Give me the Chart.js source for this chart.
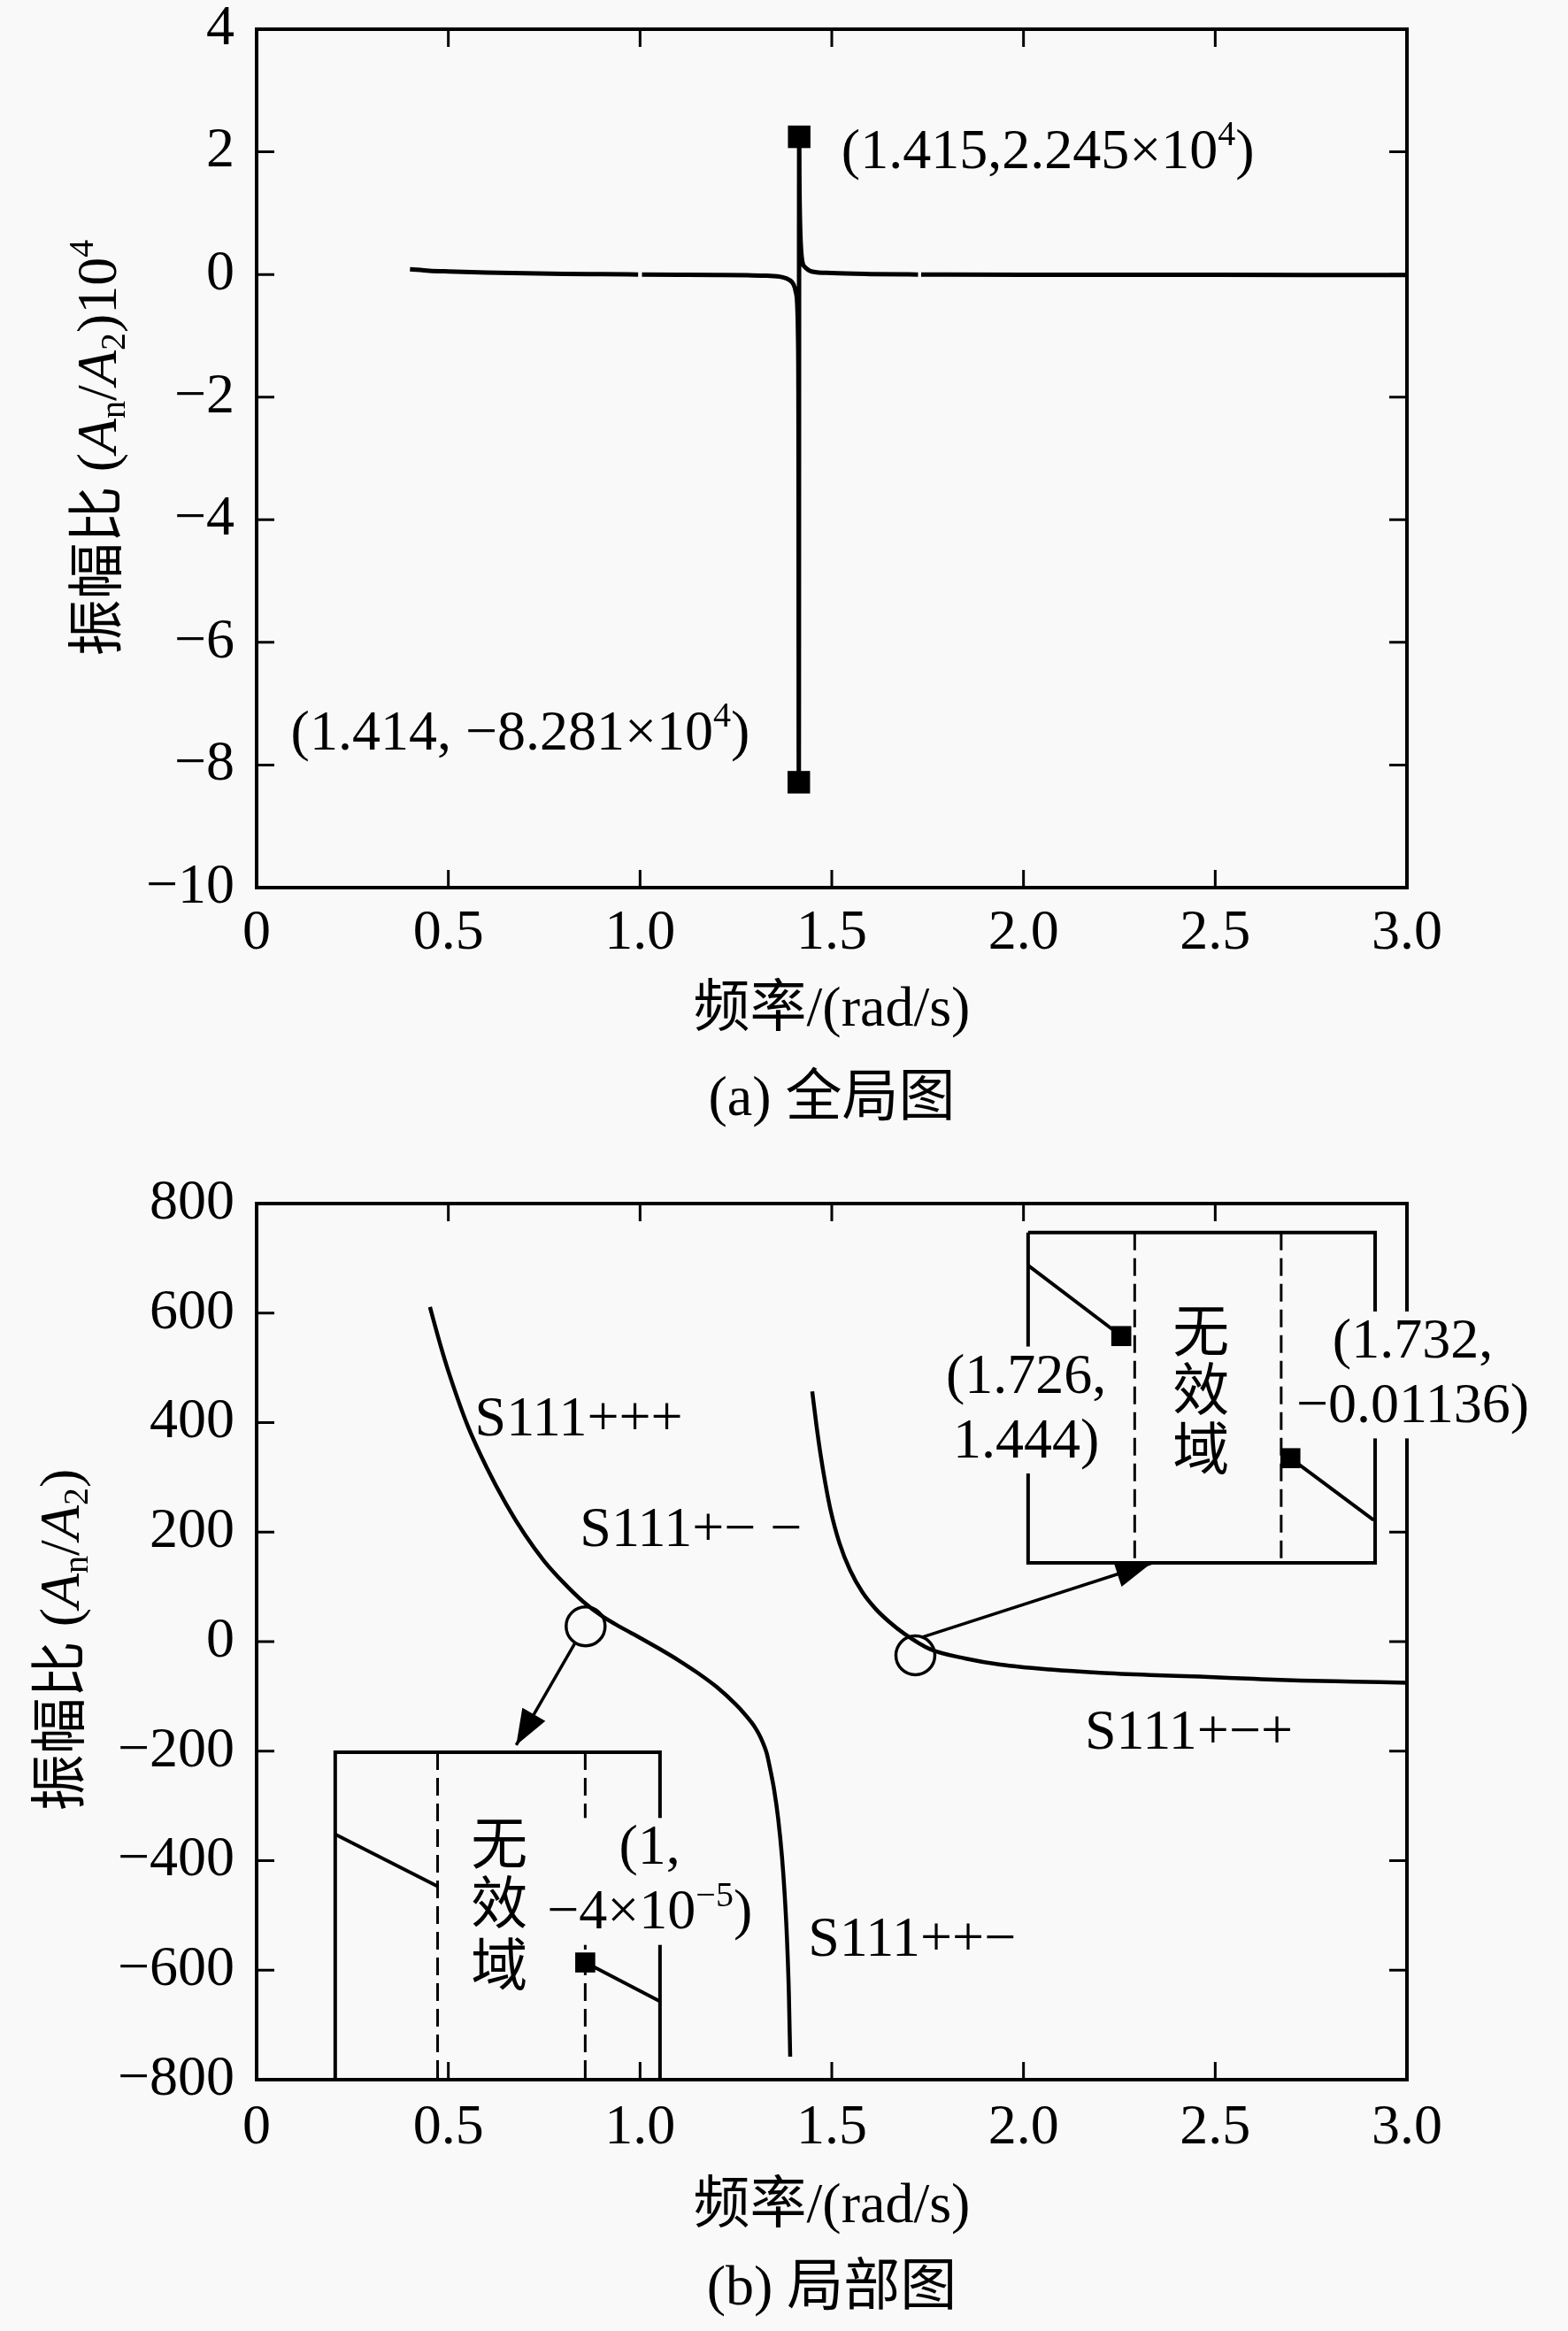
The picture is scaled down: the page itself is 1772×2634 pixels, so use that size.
<!DOCTYPE html>
<html lang="zh">
<head>
  <meta charset="UTF-8">
  <title>振幅比</title>
  <style>
    html, body { margin: 0; padding: 0; background: #f9f9f9; }
    #wrap { position: relative; width: 1772px; height: 2634px; }
    canvas { position: absolute; left: 0; }
    #topChart { top: 0; }
    #bottomChart { top: 1300px; }
  </style>
</head>
<body>
<div id="wrap">
  <canvas id="topChart" width="1772" height="1300"></canvas>
  <canvas id="bottomChart" width="1772" height="1334"></canvas>
</div>

<script src="https://cdn.jsdelivr.net/npm/chart.js"></script>
<script>
// ---- (a) 全局图 : amplitude ratio in units of 10^4 ----
const freqA = [0.40, 0.45, 0.50, 0.60, 0.70, 0.80, 0.90, 0.995, 1.00, 1.005,
               1.10, 1.20, 1.28, 1.33, 1.37, 1.39, 1.40, 1.406, 1.410, 1.412, 1.4133, 1.414,
               1.415, 1.4155, 1.417, 1.420, 1.424, 1.430, 1.440, 1.450,
               1.50, 1.60, 1.70, 1.725, 1.729, 1.733, 1.80, 2.00, 2.50, 3.00];
const ampA = [0.085, 0.061, 0.049, 0.032, 0.019, 0.0095, 0.004, -0.0008, null, -0.0012,
              -0.005, -0.009, -0.014, -0.021, -0.043, -0.09, -0.16, -0.28, -0.5, -1.0, -2.5, -8.281,
              2.245, 1.6, 0.9, 0.4, 0.19, 0.12, 0.07, 0.046,
              0.023, 0.007, 0.0008, 0.0001, null, -0.0003, -0.002, -0.0045, -0.0065, -0.0075];
const peakFreqA = [1.414, 1.415];
const peakAmpA = [-8.281, 2.245];

// ---- (b) 局部图 ----
const freqB1 = [0.452, 0.48, 0.50, 0.55, 0.60, 0.65, 0.70, 0.75, 0.80, 0.85,
                0.90, 0.95, 1.00, 1.05, 1.10, 1.15, 1.20, 1.25, 1.27, 1.29,
                1.30, 1.31, 1.32, 1.33, 1.34, 1.35, 1.36, 1.37, 1.377, 1.383,
                1.388, 1.3915];
const ampB1 = [611, 540, 494, 395, 318, 252, 195, 147, 108, 74,
               47, 26, 7, -13, -34, -57, -83, -115, -130, -147,
               -157, -169, -184, -203, -235, -272, -322, -392, -460, -540,
               -640, -758];
const freqB2 = [1.449, 1.46, 1.47, 1.483, 1.496, 1.52, 1.548, 1.58, 1.614, 1.65, 1.69,
                1.757, 1.85, 1.94, 2.07, 2.2, 2.33, 2.46, 2.6, 2.72, 2.86, 3.0];
const ampB2 = [457, 395, 345, 290, 243, 180, 130, 90, 60, 36, 14,
               -14, -31, -42, -51, -57, -61, -64, -68, -71, -73, -75];

// circled regions and zoomed insets (drawn in the axis units of panel b)
const circleFreq = [0.858, 1.718];
const circleAmp = [28, -25];

const inset1BoxX = [0.205, 0.205, 1.052, 1.052];
const inset1BoxY = [-800, -202, -202, -800];
const inset1DashX = [0.472, 0.857];
const inset1SegX = [[0.205, 0.472], [0.857, 1.052]];
const inset1SegY = [[-352, -447], [-586, -657]];

const inset2BoxX = [2.012, 2.917, 2.917, 2.012, 2.012];
const inset2BoxY = [747, 747, 144, 144, 747];
const inset2DashX = [2.29, 2.672];
const inset2SegX = [[2.012, 2.255], [2.696, 2.913]];
const inset2SegY = [[687, 558], [335, 222]];

const markFreqB = [0.857, 2.255, 2.696];
const markAmpB = [-586, 558, 335];

const arrowFromX = [0.83, 1.735];
const arrowFromY = [-3, 8];
const arrowToX = [0.677, 2.333];
const arrowToY = [-189, 143];

const BG = '#f9f9f9';
const SERIF = '"Liberation Serif", "Times New Roman", "Noto Sans CJK SC", serif';
const FS = 64;

function pts(xs, ys) {
  return xs.map((x, i) => ({ x: x, y: ys[i] }));
}

// tiny markup: {^sup} {_sub} {*italic}
function parseRich(str) {
  const parts = [];
  const re = /\{([\^_*])([^}]*)\}/g;
  let last = 0, m;
  while ((m = re.exec(str)) !== null) {
    if (m.index > last) parts.push({ t: str.slice(last, m.index) });
    parts.push({ t: m[2], k: m[1] });
    last = re.lastIndex;
  }
  if (last < str.length) parts.push({ t: str.slice(last) });
  return parts;
}

function partFont(p, size) {
  const small = p.k === '^' || p.k === '_';
  return (p.k === '*' ? 'italic ' : '') + Math.round(small ? size * 0.62 : size) + 'px ' + SERIF;
}

function richWidth(ctx, parts, size) {
  let w = 0;
  parts.forEach(p => { ctx.font = partFont(p, size); p.w = ctx.measureText(p.t).width; w += p.w; });
  return w;
}

function drawRich(ctx, str, x, y, size, align) {
  const parts = parseRich(str);
  const w = richWidth(ctx, parts, size);
  let cx = align === 'center' ? x - w / 2 : (align === 'right' ? x - w : x);
  ctx.textAlign = 'left';
  ctx.textBaseline = 'middle';
  ctx.fillStyle = '#000';
  parts.forEach(p => {
    ctx.font = partFont(p, size);
    const dy = p.k === '^' ? -size * 0.3 : (p.k === '_' ? size * 0.25 : 0);
    ctx.fillText(p.t, cx, y + dy);
    cx += p.w;
  });
}

function makeDecor(cfg) {
  return {
    id: 'decor',
    beforeDatasetsDraw(chart) {
      const { ctx, chartArea: a, scales: { x, y } } = chart;
      ctx.save();
      ctx.strokeStyle = '#000';
      ctx.lineWidth = 3;
      ctx.beginPath();
      x.ticks.forEach(t => {
        const p = x.getPixelForValue(t.value);
        ctx.moveTo(p, a.bottom); ctx.lineTo(p, a.bottom - 20);
        ctx.moveTo(p, a.top); ctx.lineTo(p, a.top + 20);
      });
      y.ticks.forEach(t => {
        const p = y.getPixelForValue(t.value);
        ctx.moveTo(a.left, p); ctx.lineTo(a.left + 20, p);
        ctx.moveTo(a.right, p); ctx.lineTo(a.right - 20, p);
      });
      ctx.stroke();
      ctx.lineWidth = 4;
      ctx.strokeRect(a.left, a.top, a.right - a.left, a.bottom - a.top);
      ctx.restore();
    },
    afterDatasetsDraw(chart) {
      const { ctx, chartArea: a, scales: { x, y } } = chart;
      ctx.save();

      // arrow heads
      (cfg.arrows || []).forEach(ar => {
        const fx = x.getPixelForValue(ar[0]), fy = y.getPixelForValue(ar[1]);
        const tx = x.getPixelForValue(ar[2]), ty = y.getPixelForValue(ar[3]);
        const len = Math.hypot(tx - fx, ty - fy);
        const ux = (tx - fx) / len, uy = (ty - fy) / len;
        const bx = tx - ux * 40, by = ty - uy * 40;
        ctx.fillStyle = '#000';
        ctx.beginPath();
        ctx.moveTo(tx, ty);
        ctx.lineTo(bx - uy * 15, by + ux * 15);
        ctx.lineTo(bx + uy * 15, by - ux * 15);
        ctx.closePath();
        ctx.fill();
      });

      // notes
      (cfg.notes || []).forEach(n => {
        const px = x.getPixelForValue(n.x);
        const pys = n.lines.map(l => y.getPixelForValue(l[1]));
        if (n.bg) {
          let left = Infinity, right = -Infinity;
          n.lines.forEach(l => {
            const w = richWidth(ctx, parseRich(l[0]), FS);
            const lx = n.align === 'center' ? px - w / 2 : px;
            left = Math.min(left, lx);
            right = Math.max(right, lx + w);
          });
          const top = Math.min(...pys) - FS * 0.55;
          const bot = Math.max(...pys) + FS * 0.55;
          ctx.fillStyle = BG;
          ctx.fillRect(left - 5, top, right - left + 10, bot - top);
        }
        n.lines.forEach((l, i) => drawRich(ctx, l[0], px, pys[i], FS, n.align));
      });

      // titles
      const cxm = (a.left + a.right) / 2;
      drawRich(ctx, '频率/(rad/s)', cxm, a.bottom + cfg.xTitleDy, FS, 'center');
      drawRich(ctx, cfg.caption, cxm, a.bottom + cfg.captionDy, FS, 'center');
      ctx.translate(cfg.yTitleX, cfg.yTitleY);
      ctx.rotate(-Math.PI / 2);
      drawRich(ctx, cfg.yTitle, 0, 0, FS, 'center');
      ctx.restore();
    }
  };
}

const tickFont = { family: SERIF, size: FS, lineHeight: 1 };
const fmtFreq = v => (v === 0 ? '0' : v.toFixed(1));
const fmtAmp = v => (v < 0 ? '\u2212' + Math.abs(v) : String(v));

function makeOptions(c) {
  return {
    responsive: false,
    animation: false,
    devicePixelRatio: 1,
    layout: { padding: { left: 0, top: c.padTop, right: 182, bottom: 0 } },
    plugins: { legend: { display: false }, tooltip: { enabled: false } },
    scales: {
      x: {
        type: 'linear', min: 0, max: 3,
        ticks: { stepSize: 0.5, autoSkip: false, maxRotation: 0, padding: c.xPad, color: '#000', font: tickFont, callback: fmtFreq },
        grid: { display: false, drawTicks: false },
        border: { display: false },
        afterFit: s => { s.height = c.xHeight; s.paddingLeft = 0; s.paddingRight = 0; }
      },
      y: {
        type: 'linear', min: c.yMin, max: c.yMax,
        ticks: { stepSize: c.yStep, autoSkip: false, padding: 25, color: '#000', font: tickFont, callback: fmtAmp },
        grid: { display: false, drawTicks: false },
        border: { display: false },
        afterFit: s => { s.width = 290; s.paddingTop = 0; s.paddingBottom = 0; }
      }
    }
  };
}

function lineSet(data, width, dash, smooth) {
  return {
    data: data, showLine: true, borderColor: '#000', borderWidth: width,
    borderDash: dash || [], pointRadius: 0, spanGaps: false,
    cubicInterpolationMode: smooth ? 'monotone' : 'default', tension: 0
  };
}

function markSet(data, style, r) {
  return {
    data: data, showLine: false, pointStyle: style, pointRadius: r,
    pointBackgroundColor: style === 'rect' ? '#000' : 'rgba(0,0,0,0)',
    pointBorderColor: '#000', pointBorderWidth: style === 'rect' ? 0 : 3.5
  };
}

// ---- chart (a) ----
new Chart(document.getElementById('topChart'), {
  type: 'scatter',
  data: {
    datasets: [
      lineSet(pts(freqA, ampA), 5, null, true),
      markSet(pts(peakFreqA, peakAmpA), 'rect', 18)
    ]
  },
  options: makeOptions({ padTop: 33, xHeight: 297, xPad: 20, yMin: -10, yMax: 4, yStep: 2 }),
  plugins: [makeDecor({
    caption: '(a) 全局图',
    yTitle: '振幅比 ({*A}{_n}/{*A}{_2})10{^4}',
    yTitleX: 114, yTitleY: 506,
    xTitleDy: 139, captionDy: 240,
    notes: [
      { x: 1.525, align: 'left', lines: [['(1.415,2.245×10{^4})', 1.98]] },
      { x: 0.089, align: 'left', lines: [['(1.414, \u22128.281×10{^4})', -7.5]] }
    ]
  })]
});

// ---- chart (b) ----
const bottomSets = [
  lineSet(pts(freqB1, ampB1), 4.5, null, true),
  lineSet(pts(freqB2, ampB2), 4.5, null, true),
  lineSet(pts(inset1BoxX, inset1BoxY), 4),
  lineSet(pts(inset2BoxX, inset2BoxY), 4)
];
inset1DashX.forEach(dx => bottomSets.push(lineSet(pts([dx, dx], [-202, -800]), 3, [20, 9])));
inset2DashX.forEach(dx => bottomSets.push(lineSet(pts([dx, dx], [747, 144]), 3, [20, 9])));
inset1SegX.forEach((sx, i) => bottomSets.push(lineSet(pts(sx, inset1SegY[i]), 4)));
inset2SegX.forEach((sx, i) => bottomSets.push(lineSet(pts(sx, inset2SegY[i]), 4)));
arrowFromX.forEach((ax, i) => bottomSets.push(lineSet(pts([ax, arrowToX[i]], [arrowFromY[i], arrowToY[i]]), 3.5)));
bottomSets.push(markSet(pts(markFreqB, markAmpB), 'rect', 16));
bottomSets.push(markSet(pts(circleFreq, circleAmp), 'circle', 22));

new Chart(document.getElementById('bottomChart'), {
  type: 'scatter',
  data: { datasets: bottomSets },
  options: makeOptions({ padTop: 60, xHeight: 284, xPad: 23, yMin: -800, yMax: 800, yStep: 200 }),
  plugins: [makeDecor({
    caption: '(b) 局部图',
    yTitle: '振幅比 ({*A}{_n}/{*A}{_2})',
    yTitleX: 72, yTitleY: 553,
    xTitleDy: 144, captionDy: 237,
    arrows: arrowFromX.map((ax, i) => [ax, arrowFromY[i], arrowToX[i], arrowToY[i]]),
    notes: [
      { x: 0.569, align: 'left', lines: [['S111+++', 403]] },
      { x: 0.843, align: 'left', lines: [['S111+\u2212 \u2212', 202]] },
      { x: 2.16, align: 'left', lines: [['S111+\u2212+', -169]] },
      { x: 1.438, align: 'left', lines: [['S111++\u2212', -547]] },
      { x: 0.633, align: 'center', lines: [['无', -379], ['效', -487], ['域', -600]] },
      { x: 2.463, align: 'center', lines: [['无', 558], ['效', 450], ['域', 343]] },
      { x: 1.025, align: 'center', bg: true, lines: [['(1,', -379], ['\u22124×10{^\u22125})', -497]] },
      { x: 2.007, align: 'center', bg: true, lines: [['(1.726,', 482], ['1.444)', 364]] },
      { x: 3.015, align: 'center', bg: true, lines: [['(1.732,', 546], ['\u22120.01136)', 428]] }
    ]
  })]
});
</script>
</body>
</html>
